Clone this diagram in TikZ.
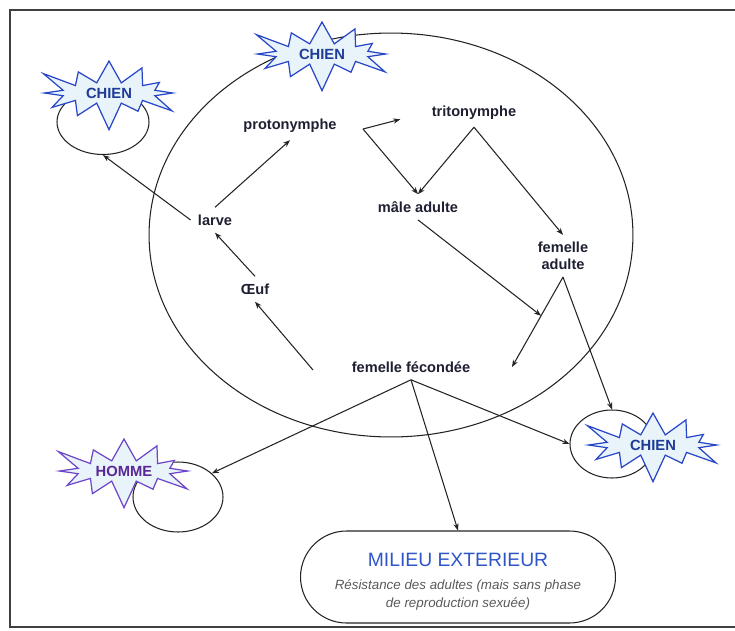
\documentclass[tikz,border=0pt]{standalone}
\usepackage{fontspec}
\setmainfont{Liberation Sans}
\usetikzlibrary{shapes.geometric,shapes.symbols,arrows.meta,calc}

\definecolor{burstfill}{RGB}{232,243,250}
\definecolor{burstline}{RGB}{40,70,200}
\definecolor{chiencol}{RGB}{30,60,150}
\definecolor{hommeline}{RGB}{110,70,200}
\definecolor{hommecol}{RGB}{90,40,150}
\definecolor{labelcol}{RGB}{30,32,50}
\definecolor{milieucol}{RGB}{45,85,200}
\definecolor{linecol}{RGB}{35,35,35}

\begin{document}
\begin{tikzpicture}[x=0.02cm, y=-0.02cm,
    stage/.style={font=\bfseries\fontsize{8.3}{9.5}\selectfont, text=labelcol, inner sep=4pt, align=center},
    host/.style={starburst, starburst points=12, starburst point height=0.6cm, draw=burstline, fill=burstfill, line width=0.7pt, text=chiencol, font=\bfseries\fontsize{8.4}{10}\selectfont, minimum width=3.1cm, minimum height=1.62cm, inner sep=1pt},
    hostring/.style={ellipse, draw=linecol, line width=0.6pt},
    arr/.style={-{Stealth[length=4pt,width=3pt]}, line width=0.6pt, draw=linecol}]
    \useasboundingbox (0,0) rectangle (735,630);
    \draw[line width=0.9pt, draw=black!75] (740,10) -- (10,10) -- (10,627) -- (740,627);

    % cycle on the dog
    \node[hostring, minimum width=9.68cm, minimum height=8.08cm] (cycle) at (391,235) {};
    \node[hostring, minimum width=1.84cm, minimum height=1.3cm] (ringB) at (103,122) {};
    \node[hostring, minimum width=1.8cm, minimum height=1.4cm] (ringH) at (178,497) {};
    \node[hostring, minimum width=1.68cm, minimum height=1.36cm] (ringC) at (612,444) {};

    \node[host] (chienA) at (322,54) {CHIEN};
    \node[host] (chienB) at (109,93) {CHIEN};
    \node[host, draw=hommeline, text=hommecol] (homme) at (124,471) {HOMME};
    \node[host] (chienC) at (653,445) {CHIEN};

    \node[stage] (proto) at (290,126) {protonymphe};
    \node[stage] (trito) at (474,113) {tritonymphe};
    \node[stage] (larve) at (215,220) {larve};
    \node[stage] (oeuf) at (255,289) {Œuf};
    \node[stage] (male) at (418,207) {mâle adulte};
    \node[stage] (femad) at (563,256) {femelle\\adulte};
    \node[stage] (fecond) at (411,367) {femelle fécondée};

    % milieu exterieur
    \node[draw=linecol, rounded corners=0.92cm, minimum width=6.3cm, minimum height=1.84cm, line width=0.6pt] (milieu) at (458,577) {};
    \node[text=milieucol, font=\fontsize{11}{13}\selectfont] (milieuT) at (458,560) {MILIEU EXTERIEUR};
    \node[text=black!65, font=\itshape\fontsize{7.6}{10}\selectfont, align=center] (milieuS) at (458,595) {Résistance des adultes (mais sans phase\\de reproduction sexuée)};

    \coordinate (split) at (363,129);
    \coordinate (fecout) at (313,370);
    \coordinate (fecin) at (512,367);
    \coordinate (meet) at ($(femad.south)!0.43!(fecin)$);

    \draw[arr] (larve.west) -- (ringB.south);
    \draw[arr] (larve.north) -- (proto.south);
    \draw[arr] (oeuf.north) -- (larve.south);
    \draw[arr] (fecout) -- (oeuf.south);
    \draw[arr, shorten >=0.5cm] (split) -- (trito.west);
    \draw[arr] (split) -- (male.north);
    \draw[arr] (trito.south) -- (male.north);
    \draw[arr] (trito.south) -- (femad.north);
    \draw[arr] (male.south) -- (meet);
    \draw[arr] (femad.south) -- (fecin);
    \draw[arr] (femad.south) -- (ringC.north);
    \draw[arr] (fecond.south) -- (ringH.35);
    \draw[arr] (fecond.south) -- (ringC.west);
    \draw[arr] (fecond.south) -- (milieu.north);
\end{tikzpicture}
\end{document}
